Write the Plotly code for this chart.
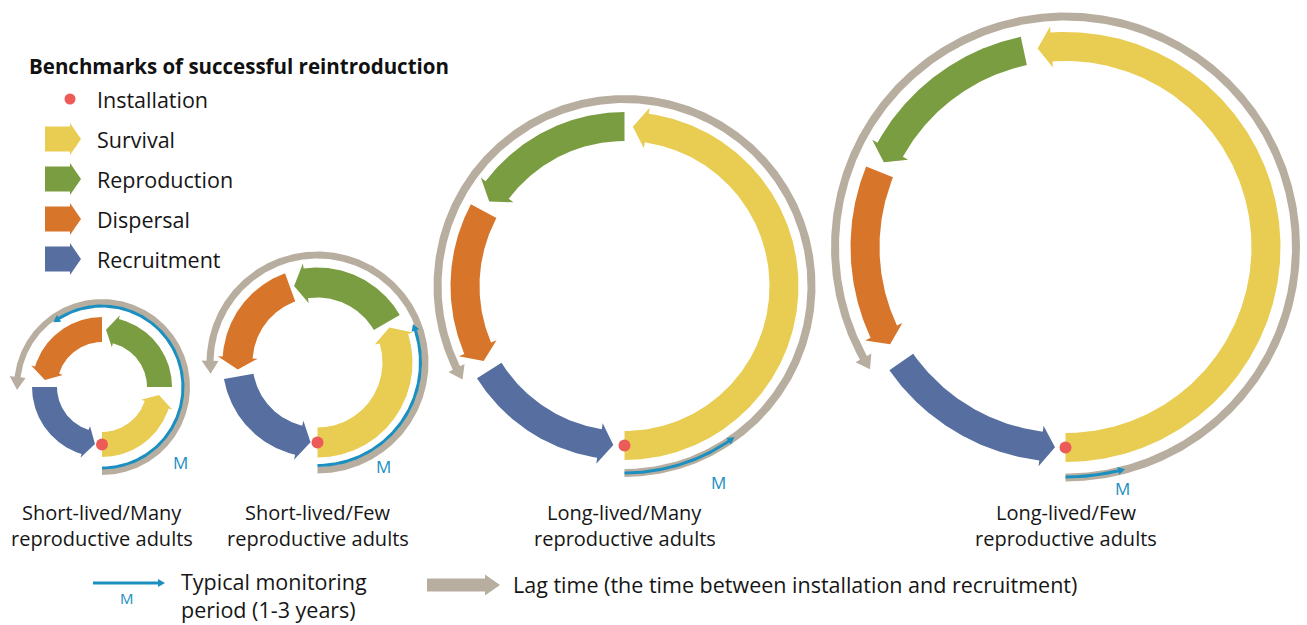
import numpy as np
import plotly.graph_objects as go

W, H = 1307, 625

# ---------------- data ----------------
scenarios = ["Short-lived/Many\nreproductive adults",
             "Short-lived/Few\nreproductive adults",
             "Long-lived/Many\nreproductive adults",
             "Long-lived/Few\nreproductive adults"]
benchmarks = ["Survival", "Reproduction", "Dispersal", "Recruitment"]
# arc extents in degrees, counter-clockwise, 0 = 3 o'clock; (start, end) per scenario
survival = [(270, 352), (270, 26), (270, 87), (270, 98)]
reproduction = [(0, 86), (30, 107), (90, 148), (102, 155)]
dispersal = [(90, 173), (110, 185), (152, 208), (158, 209)]
recruitment = [(180, 263), (190, 265), (212, 266), (215, 267)]
lag_time = [(270, 182), (270, 186), (270, 210), (270, 212)]
monitoring = [(270, 127), (270, 22), (270, 306), (270, 285)]
installation = [270, 270, 270, 270]

# ---------------- layout / styles ----------------
CX = [102, 317.5, 624.5, 1065.5]
CY = [387, 362.5, 286, 247]
R_OUT = [70, 95, 174, 215]
BAND = [25, 30, 29, 29]
HEAD = [10, 12, 14, 14]
EXT = [4, 5, 6, 6]
LAG_R = [85, 107.5, 187, 230.5]
LAG_W = [6, 7, 8, 8]
MON_R = [81, 103, 187, 230]
M_LABEL = [(180, 462), (383, 466), (718, 482), (1122, 488)]

COL = {"Survival": "#E8CD52", "Reproduction": "#7A9D41",
       "Dispersal": "#D7762A", "Recruitment": "#566FA0"}
GRAY = "#B8AE9F"
CYAN = "#1A8FC0"
RED = "#EC5B57"
FONT = "Open Sans"
FS_CAP = 20
FS_LEG = 21.5
FS_TITLE = 20.5
TXT = "#161616"

fig = go.Figure()


def pol(cx, cy, r, a):
    t = np.radians(a)
    return cx + r * np.cos(t), cy - r * np.sin(t)


def band_arrow(cx, cy, rin, rout, a0, a1, head, ext):
    if a1 < a0:
        a1 += 360
    rm = (rin + rout) / 2
    hd = np.degrees(head / rm)
    ab = a1 - hd
    n = max(2, int((ab - a0) * 2) + 2)
    ang = np.linspace(a0, ab, n)
    xo, yo = pol(cx, cy, rout, ang)
    xi, yi = pol(cx, cy, rin, ang[::-1])
    b1 = pol(cx, cy, rout + ext, ab)
    tp = pol(cx, cy, rm, a1)
    b2 = pol(cx, cy, rin - ext, ab)
    xs = list(xo) + [b1[0], tp[0], b2[0]] + list(xi) + [xo[0]]
    ys = list(yo) + [b1[1], tp[1], b2[1]] + list(yi) + [yo[0]]
    return xs, ys


def add_poly(xs, ys, color):
    fig.add_trace(go.Scatter(x=xs, y=ys, mode="lines", fill="toself",
                             fillcolor=color, line=dict(width=0, color=color),
                             hoverinfo="skip", showlegend=False))


def straight_arrow(x0, x1, xh, yc, hb, hh):
    xs = [x0, xh, xh, x1, xh, xh, x0, x0]
    ys = [yc - hb, yc - hb, yc - hh, yc, yc + hh, yc + hb, yc + hb, yc - hb]
    return xs, ys


series = {"Survival": survival, "Reproduction": reproduction,
          "Dispersal": dispersal, "Recruitment": recruitment}

for i in range(len(scenarios)):
    cx, cy = CX[i], CY[i]
    # lag time (gray)
    xs, ys = band_arrow(cx, cy, LAG_R[i] - LAG_W[i] / 2, LAG_R[i] + LAG_W[i] / 2,
                        lag_time[i][0], lag_time[i][1], 13, 5)
    add_poly(xs, ys, GRAY)
    # monitoring (cyan)
    xs, ys = band_arrow(cx, cy, MON_R[i] - 1.5, MON_R[i] + 1.5,
                        monitoring[i][0], monitoring[i][1], 7, 2.5)
    add_poly(xs, ys, CYAN)
    # benchmarks
    rin = R_OUT[i] - BAND[i]
    for b in benchmarks:
        a0, a1 = series[b][i]
        xs, ys = band_arrow(cx, cy, rin, R_OUT[i], a0, a1, HEAD[i], EXT[i])
        add_poly(xs, ys, COL[b])
    # M label
    fig.add_annotation(x=M_LABEL[i][0], y=M_LABEL[i][1], text="M", showarrow=False,
                       font=dict(family=FONT, size=17, color=CYAN),
                       xanchor="center", yanchor="middle")
    # caption
    l1, l2 = scenarios[i].split("\n")
    fig.add_annotation(x=cx, y=512, text=l1, showarrow=False,
                       font=dict(family=FONT, size=FS_CAP, color=TXT),
                       xanchor="center", yanchor="middle")
    fig.add_annotation(x=cx, y=538, text=l2, showarrow=False,
                       font=dict(family=FONT, size=FS_CAP, color=TXT),
                       xanchor="center", yanchor="middle")

# installation dots
dx, dy = [], []
for i in range(len(scenarios)):
    rm = R_OUT[i] - BAND[i] / 2
    p = pol(CX[i], CY[i], rm, installation[i])
    dx.append(p[0]); dy.append(p[1])
fig.add_trace(go.Scatter(x=dx, y=dy, mode="markers",
                         marker=dict(size=12, color=RED, line=dict(width=0)),
                         hoverinfo="skip", showlegend=False))

# ---------------- legend (top-left) ----------------
fig.add_annotation(x=27, y=66, text="<b>Benchmarks of successful reintroduction</b>",
                   showarrow=False, xanchor="left", yanchor="middle",
                   font=dict(family=FONT, size=FS_TITLE, color="#111"))
fig.add_trace(go.Scatter(x=[70], y=[99], mode="markers",
                         marker=dict(size=11, color=RED), hoverinfo="skip", showlegend=False))
fig.add_annotation(x=95, y=99, text="Installation", showarrow=False, xanchor="left",
                   yanchor="middle", font=dict(family=FONT, size=FS_LEG, color=TXT))
for k, b in enumerate(benchmarks):
    yc = 139 + 40 * k
    xs, ys = straight_arrow(45, 81, 70, yc, 12.5, 16)
    add_poly(xs, ys, COL[b])
    fig.add_annotation(x=95, y=yc, text=b, showarrow=False, xanchor="left",
                       yanchor="middle", font=dict(family=FONT, size=FS_LEG, color=TXT))

# ---------------- legend (bottom) ----------------
xs, ys = straight_arrow(93, 165, 158, 583, 1.5, 4)
add_poly(xs, ys, CYAN)
fig.add_annotation(x=127, y=598, text="M", showarrow=False, xanchor="center", yanchor="middle",
                   font=dict(family=FONT, size=15, color=CYAN))
fig.add_annotation(x=179, y=595, text="Typical monitoring<br>period (1-3 years)",
                   showarrow=False, xanchor="left", yanchor="middle", align="left",
                   font=dict(family=FONT, size=FS_LEG, color=TXT))
xs, ys = straight_arrow(427, 500, 485, 585, 6.5, 10.5)
add_poly(xs, ys, GRAY)
fig.add_annotation(x=511, y=584, text="Lag time (the time between installation and recruitment)",
                   showarrow=False, xanchor="left", yanchor="middle",
                   font=dict(family=FONT, size=FS_LEG, color=TXT))

fig.update_layout(width=W, height=H, margin=dict(l=0, r=0, t=0, b=0),
                  paper_bgcolor="white", plot_bgcolor="white", showlegend=False)
fig.update_xaxes(range=[0, W], visible=False, fixedrange=True)
fig.update_yaxes(range=[H, 0], visible=False, fixedrange=True)

fig.write_html("out.html", config={"displayModeBar": False},
               post_script="document.body.style.margin='0';document.body.style.overflow='hidden';")
